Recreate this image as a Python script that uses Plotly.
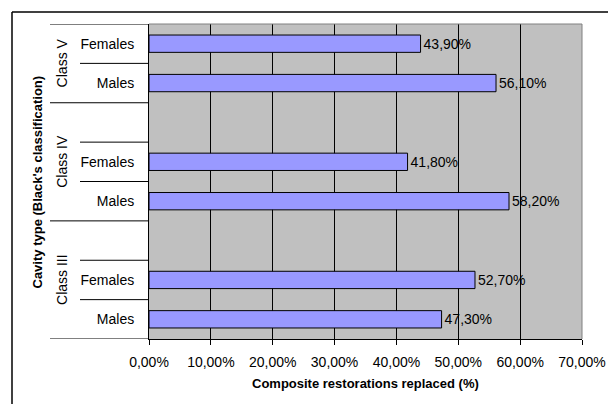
import plotly.graph_objects as go

# ---- data ----
row_class = ["Class V", "Class V", "Class IV", "Class IV", "Class IV",
             "Class III", "Class III", "Class III"]
row_labels = ["Females", "Males", "", "Females", "Males", "", "Females", "Males"]
values = [43.9, 56.1, None, 41.8, 58.2, None, 52.7, 47.3]
x_ticks = [0, 10, 20, 30, 40, 50, 60, 70]
x_tick_labels = ["0,00%", "10,00%", "20,00%", "30,00%", "40,00%", "50,00%", "60,00%", "70,00%"]
x_title = "Composite restorations replaced (%)"
y_title = "Cavity type (Black's classification)"

# page geometry (browser body has an 8px margin)
PAGE_W, PAGE_H, OFF = 616, 404, 8
PL, PR, PT, PB = 149, 582, 24, 339  # plot area in page pixels
W, H = PAGE_W - OFF, PAGE_H - OFF
L, R, T, B = PL - OFF, PAGE_W - PR, PT - OFF, PAGE_H - PB
pw, ph = PR - PL, PB - PT

rows = list(range(len(values)))
FONT = "Liberation Sans, Arial, sans-serif"

fig = go.Figure(go.Bar(
    x=values, y=rows, orientation="h",
    marker=dict(color="#9999FF", line=dict(color="#000000", width=1)),
    texttemplate="%{x:.2f}%", textposition="outside",
    textfont=dict(family=FONT, size=14, color="#000000"),
    cliponaxis=False,
))

def px_x(p):
    return (p - PL) / pw

def px_y(p):
    return 1 - (p - PT) / ph

shapes = []
n = len(rows)
for b in range(n + 1):
    long = b == 0 or b == n or row_class[b] != row_class[b - 1]
    shapes.append(dict(type="line", xref="paper", yref="y",
                       x0=px_x(50 if long else 80), x1=0,
                       y0=b - 0.5, y1=b - 0.5,
                       line=dict(color="#000000", width=1)))
shapes.append(dict(type="line", xref="paper", yref="paper", x0=0, x1=1, y0=1, y1=1,
                   line=dict(color="#808080", width=1)))
shapes.append(dict(type="line", xref="paper", yref="paper", x0=1, x1=1, y0=0, y1=1,
                   line=dict(color="#808080", width=1)))
shapes.append(dict(type="line", xref="paper", yref="paper",
                   x0=px_x(12), x1=px_x(12), y0=px_y(12), y1=px_y(PAGE_H + 20),
                   line=dict(color="#000000", width=1.5)))
shapes.append(dict(type="line", xref="paper", yref="paper",
                   x0=px_x(12), x1=px_x(PAGE_W + 20), y0=px_y(12), y1=px_y(12),
                   line=dict(color="#000000", width=1.5)))

annotations = []
classes = []
for c in row_class:
    if c not in classes:
        classes.append(c)
for c in classes:
    idx = [i for i, rc in enumerate(row_class) if rc == c]
    annotations.append(dict(text=c, xref="paper", yref="y", x=px_x(62),
                            y=sum(idx) / len(idx), textangle=-90, showarrow=False,
                            xanchor="center", yanchor="middle",
                            font=dict(family=FONT, size=14, color="#000000")))
annotations.append(dict(text="<b>" + y_title + "</b>", xref="paper", yref="paper",
                        x=px_x(37), y=0.5, textangle=-90, showarrow=False,
                        xanchor="center", yanchor="middle",
                        font=dict(family=FONT, size=13, color="#000000")))
annotations.append(dict(text="<b>" + x_title + "</b>", xref="paper", yref="paper",
                        x=0.5, y=px_y(383), showarrow=False,
                        xanchor="center", yanchor="middle",
                        font=dict(family=FONT, size=13, color="#000000")))

fig.update_layout(
    width=W, height=H,
    margin=dict(l=L, r=R, t=T, b=B, autoexpand=False),
    paper_bgcolor="#FFFFFF", plot_bgcolor="#C0C0C0",
    separators=",.",
    bargap=0.56, showlegend=False,
    shapes=shapes, annotations=annotations,
    font=dict(family=FONT, size=14, color="#000000"),
)
fig.update_xaxes(range=[0, 70], tickvals=x_ticks, ticktext=x_tick_labels,
                 showgrid=True, gridcolor="#000000", gridwidth=1,
                 showline=True, linecolor="#000000", linewidth=1,
                 ticks="outside", ticklen=5, tickcolor="#000000",
                 ticklabelstandoff=5,
                 zeroline=False, tickfont=dict(family=FONT, size=14))
fig.update_yaxes(range=[n - 0.5, -0.5], tickvals=rows, ticktext=row_labels,
                 showgrid=False, zeroline=False, showline=True,
                 linecolor="#000000", linewidth=1,
                 ticks="outside", ticklen=11, tickcolor="rgba(0,0,0,0)",
                 tickfont=dict(family=FONT, size=14))

fig.write_html("out.html")
